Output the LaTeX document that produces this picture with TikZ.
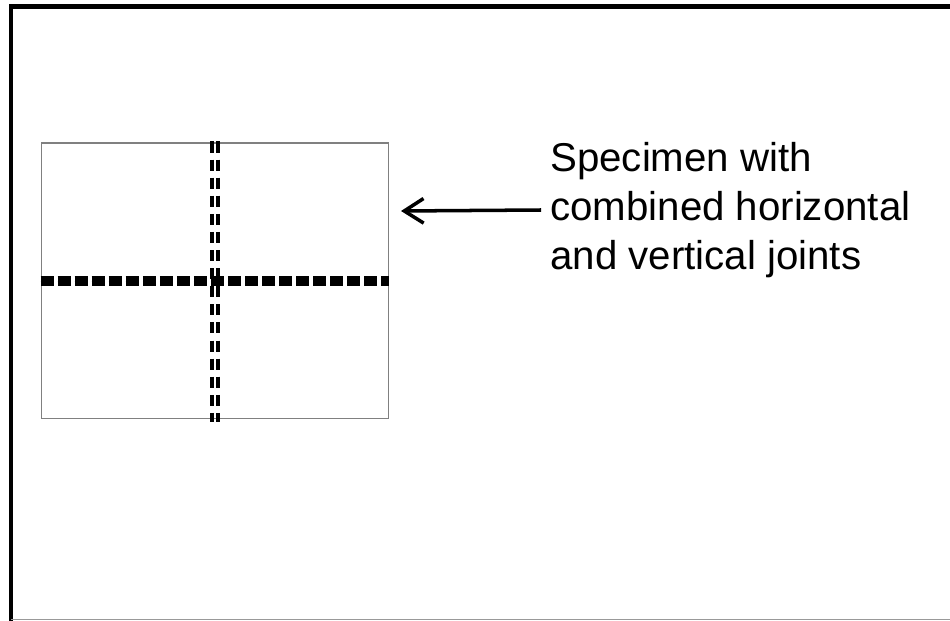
\documentclass[tikz,border=0pt]{standalone}
\usepackage{fontspec}
\setmainfont{Liberation Sans}
\usetikzlibrary{arrows.meta}
\begin{document}
\begin{tikzpicture}[x=0.02cm, y=-0.02cm,
    specimen/.style={draw=black!50, line width=0.6pt, minimum width=6.96cm, minimum height=5.52cm, inner sep=0pt},
    hjoint/.style={line width=2.7pt, dash pattern=on 7.4pt off 2.3pt},
    vjoint/.style={line width=2pt, dash pattern=on 6.3pt off 4pt},
    pointer/.style={-{Straight Barb[length=11pt,width=14pt]}, line width=2pt},
    caption/.style={font=\fontsize{22.9}{27.9}\selectfont, align=left, anchor=west, inner sep=0pt}]
    \useasboundingbox (0,0) rectangle (950,621);

    % frame
    \draw[line width=2.8pt] (11,621) -- (11,6.5) -- (950,6.5);
    \draw[black!40, line width=0.9pt] (11,619.5) -- (950,619.5);

    % specimen and joints
    \node[specimen] (spec) at (215,281) {};
    \foreach \d in {-1.6pt,1.6pt} {
        \draw[vjoint, shorten <=-0.6pt, shorten >=-1.7pt] ([xshift=\d]spec.north) -- ([xshift=\d]spec.south);
    }
    \foreach \d in {-1.4pt,1.4pt} {
        \draw[hjoint] ([yshift=\d]spec.west) -- ([yshift=\d]spec.east);
    }

    % label
    \node[caption] (label) at (550,210) {Specimen with\\combined horizontal\\and vertical joints};
    \coordinate (tip) at (401,211);
    \draw[pointer] ([xshift=-5pt]label.west) -- (tip);
\end{tikzpicture}
\end{document}
